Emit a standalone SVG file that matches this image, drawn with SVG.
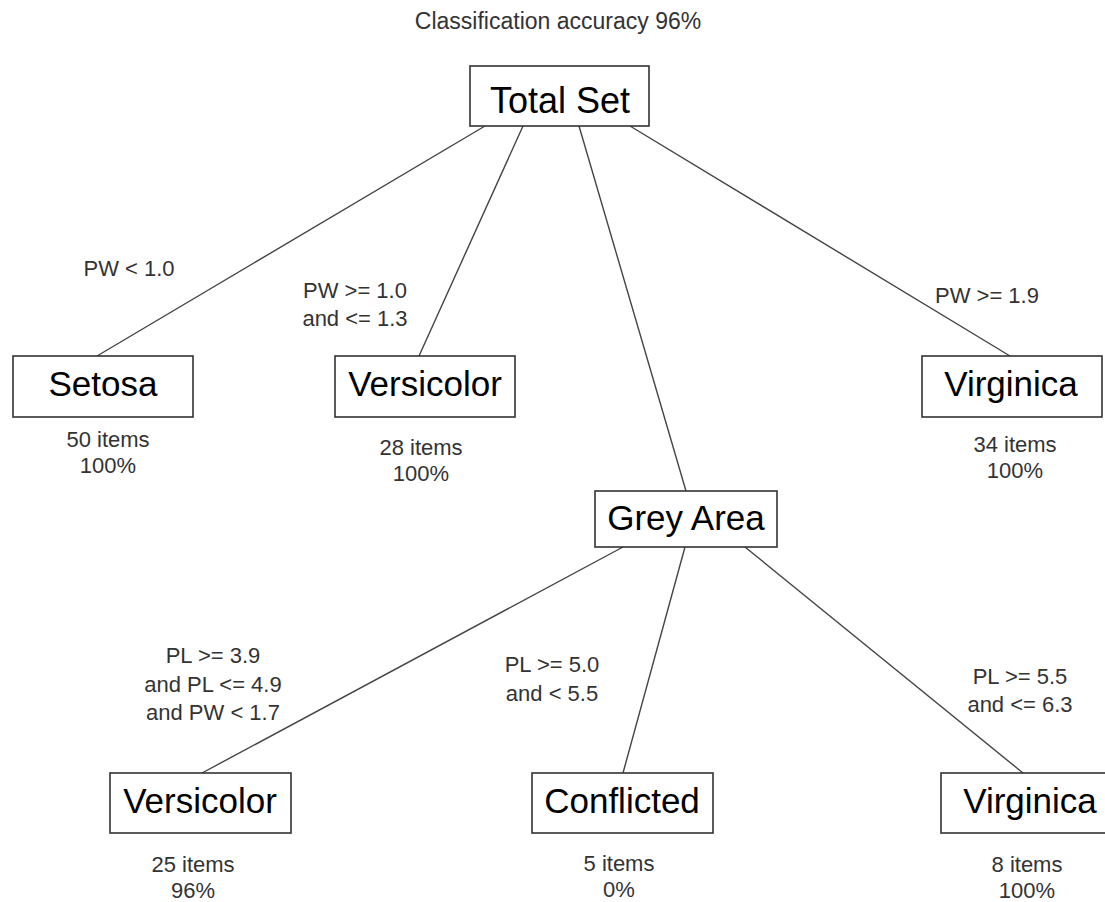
<svg xmlns="http://www.w3.org/2000/svg" width="1105" height="902" viewBox="0 0 1105 902">
<style>
.bg{fill:#ffffff}
.box{fill:#ffffff;stroke:#333333;stroke-width:1.6}
.node{font-family:"Liberation Sans",Arial,sans-serif;font-size:35px;fill:#000000;text-anchor:middle}
.lbl{font-family:"Liberation Sans",Arial,sans-serif;font-size:22px;fill:#333333;text-anchor:middle}
.edge{stroke:#444444;stroke-width:1.4;fill:none}
</style>
<rect class="bg" x="0" y="0" width="1105" height="902"/>
<text class="lbl" x="558" y="29" style="font-size:23px">Classification accuracy 96%</text>
<g id="connectors">
<line class="edge" x1="485" y1="126" x2="97" y2="356"/>
<line class="edge" x1="523" y1="126" x2="419" y2="356"/>
<line class="edge" x1="579" y1="126" x2="686" y2="491"/>
<line class="edge" x1="630" y1="126" x2="1010" y2="356"/>
<line class="edge" x1="623" y1="547" x2="202" y2="773"/>
<line class="edge" x1="685" y1="547" x2="623" y2="773"/>
<line class="edge" x1="745" y1="547" x2="1023" y2="773"/>
<text class="lbl" x="129" y="276">PW &lt; 1.0</text>
<text class="lbl" x="355" y="298">PW &gt;= 1.0</text>
<text class="lbl" x="355" y="326">and &lt;= 1.3</text>
<text class="lbl" x="987" y="303">PW &gt;= 1.9</text>
<text class="lbl" x="213" y="663">PL &gt;= 3.9</text>
<text class="lbl" x="213" y="692">and PL &lt;= 4.9</text>
<text class="lbl" x="213" y="720">and PW &lt; 1.7</text>
<text class="lbl" x="552" y="672">PL &gt;= 5.0</text>
<text class="lbl" x="552" y="701">and &lt; 5.5</text>
<text class="lbl" x="1020" y="684">PL &gt;= 5.5</text>
<text class="lbl" x="1020" y="712">and &lt;= 6.3</text>
</g>
<g id="total-set">
<rect class="box" x="470" y="66" width="179" height="60"/>
<text class="node" x="560" y="113" style="font-size:36px">Total Set</text>
</g>
<g id="setosa">
<rect class="box" x="13" y="356" width="180" height="61"/>
<text class="node" x="103" y="396">Setosa</text>
<text class="lbl" x="108" y="447">50 items</text>
<text class="lbl" x="108" y="473">100%</text>
</g>
<g id="versicolor-1">
<rect class="box" x="335" y="356" width="180" height="61"/>
<text class="node" x="425" y="396">Versicolor</text>
<text class="lbl" x="421" y="455">28 items</text>
<text class="lbl" x="421" y="481">100%</text>
</g>
<g id="virginica-1">
<rect class="box" x="922" y="356" width="180" height="61"/>
<text class="node" x="1011" y="396">Virginica</text>
<text class="lbl" x="1015" y="452">34 items</text>
<text class="lbl" x="1015" y="478">100%</text>
</g>
<g id="grey-area">
<rect class="box" x="595" y="491" width="182" height="56"/>
<text class="node" x="686" y="530">Grey Area</text>
</g>
<g id="versicolor-2">
<rect class="box" x="110" y="773" width="181" height="60"/>
<text class="node" x="200" y="813">Versicolor</text>
<text class="lbl" x="193" y="872">25 items</text>
<text class="lbl" x="193" y="898">96%</text>
</g>
<g id="conflicted">
<rect class="box" x="532" y="773" width="181" height="60"/>
<text class="node" x="622" y="813">Conflicted</text>
<text class="lbl" x="619" y="871">5 items</text>
<text class="lbl" x="619" y="897">0%</text>
</g>
<g id="virginica-2">
<rect class="box" x="941" y="773" width="180" height="60"/>
<text class="node" x="1030" y="813">Virginica</text>
<text class="lbl" x="1027" y="872">8 items</text>
<text class="lbl" x="1027" y="898">100%</text>
</g>
</svg>
